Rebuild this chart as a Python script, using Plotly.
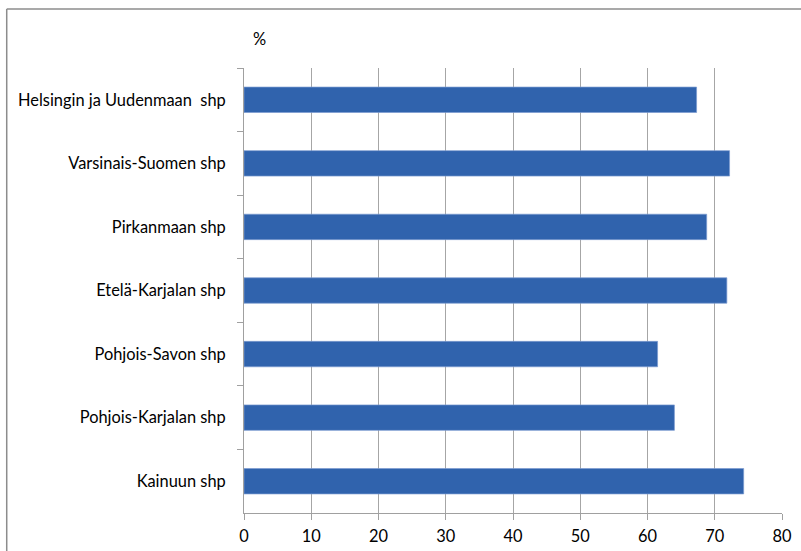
import plotly.graph_objects as go

categories = [
    "Helsingin ja Uudenmaan  shp",
    "Varsinais-Suomen shp",
    "Pirkanmaan shp",
    "Etelä-Karjalan shp",
    "Pohjois-Savon shp",
    "Pohjois-Karjalan shp",
    "Kainuun shp",
]
values = [67.3, 72.2, 68.8, 71.8, 61.5, 64.0, 74.3]
x_ticks = [0, 10, 20, 30, 40, 50, 60, 70, 80]

W, H = 801, 551
L, R, T, B = 243.5, 19, 68, 38
pw, ph = W - L - R, H - T - B

def px(x):
    return (x - L) / pw

def py(y):
    return 1 - (y - T) / ph

fig = go.Figure(go.Bar(
    x=values, y=categories, orientation="h",
    marker=dict(color="#3063ad", line=dict(color="#7b9bd0", width=0.7)),
    width=0.4,
))

font = dict(family="Lato, Carlito, Calibri, sans-serif", size=16.4, color="#000000")

fig.update_layout(
    width=W, height=H,
    margin=dict(l=L, r=R, t=T, b=B, pad=0, autoexpand=False),
    paper_bgcolor="white", plot_bgcolor="white",
    showlegend=False,
    font=font,
    bargap=0.6,
    xaxis=dict(
        range=[0, 80], tickvals=x_ticks, showgrid=True, gridcolor="#a6a6a6", gridwidth=1,
        zeroline=False, showline=True, linecolor="#a0a0a0", linewidth=1,
        ticks="outside", ticklen=6, tickcolor="#a0a0a0", tickfont=font,
        ticklabelstandoff=2, fixedrange=True, automargin=False,
    ),
    yaxis=dict(
        categoryorder="array", categoryarray=categories, autorange="reversed",
        showgrid=False, zeroline=False, showline=True, linecolor="#a0a0a0", linewidth=1,
        ticks="outside", ticklen=6, tickcolor="#a0a0a0", tickson="boundaries",
        tickfont=font, ticklabelstandoff=14, automargin=False,
    ),
    shapes=[
        dict(type="line", xref="paper", yref="paper",
             x0=px(6), x1=px(W + 10), y0=py(9), y1=py(9),
             line=dict(color="#8c8c8c", width=1.5)),
        dict(type="line", xref="paper", yref="paper",
             x0=px(6), x1=px(6), y0=py(9), y1=py(H + 10),
             line=dict(color="#8c8c8c", width=1.5)),
    ],
    annotations=[
        dict(text="%", xref="paper", yref="paper", x=px(259), y=py(38),
             showarrow=False, font=font, xanchor="center", yanchor="middle"),
    ],
)

fig.write_html("out.html")
